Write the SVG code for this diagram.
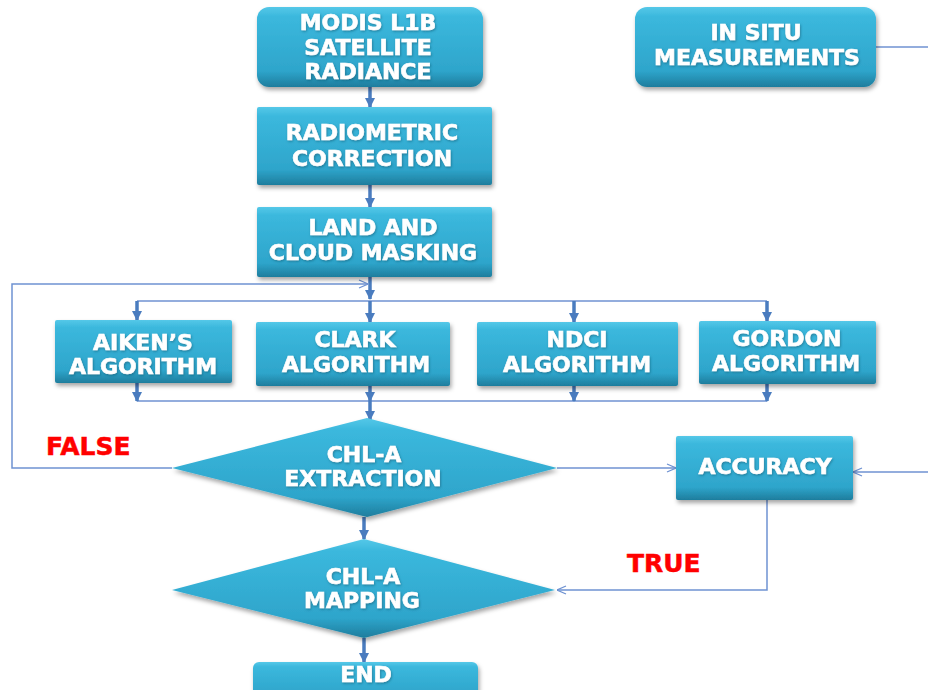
<svg xmlns="http://www.w3.org/2000/svg" width="928" height="690" viewBox="0 0 928 690">
<style>
.box{fill:url(#boxGrad);filter:url(#shadow)}
.t{font-family:"DejaVu Sans","Liberation Sans",sans-serif;font-weight:bold;font-size:22px;fill:#ffffff;stroke:#ffffff;stroke-width:0.6;text-anchor:middle;filter:url(#tshadow)}
.lbl{font-family:"DejaVu Sans","Liberation Sans",sans-serif;font-weight:bold;font-size:25px;fill:#ff0000;stroke:#ff0000;stroke-width:0.5}
.thick{stroke:#4a7cbf;stroke-width:3.5;fill:none;marker-end:url(#headFill)}
.thin{stroke:#6f92d2;stroke-width:1.5;fill:none}
.open{marker-end:url(#headOpen)}
</style>
<defs>
<linearGradient id="boxGrad" x1="0" y1="0" x2="0" y2="1">
<stop offset="0" stop-color="#55c8e8"/>
<stop offset="0.12" stop-color="#3bb8dd"/>
<stop offset="0.8" stop-color="#2ea5cb"/>
<stop offset="1" stop-color="#1e7d9d"/>
</linearGradient>
<filter id="shadow" x="-10%" y="-10%" width="125%" height="135%">
<feDropShadow dx="1.5" dy="3" stdDeviation="2" flood-color="#000" flood-opacity="0.35"/>
</filter>
<filter id="tshadow" x="-10%" y="-20%" width="120%" height="150%">
<feDropShadow dx="0.8" dy="1.2" stdDeviation="0.8" flood-color="#0b4a60" flood-opacity="0.5"/>
</filter>
<marker id="headFill" viewBox="0 0 10 10" refX="9" refY="5" markerWidth="10" markerHeight="10" markerUnits="userSpaceOnUse" orient="auto">
<path d="M0,0 L10,5 L0,10 z" fill="#4a7cbf"/>
</marker>
<marker id="headOpen" viewBox="0 0 10 10" refX="10" refY="5" markerWidth="10" markerHeight="10" markerUnits="userSpaceOnUse" orient="auto">
<path d="M1,1 L10,5 L1,9" fill="none" stroke="#6f92d2" stroke-width="1.3"/>
</marker>
</defs>
<g id="connectors">
<path class="thin open" d="M172,468 H12 V284 H368"/>
<path class="thin" d="M137,301 H767"/>
<path class="thin" d="M137,401 H767"/>
<path class="thin open" d="M557,468 H676"/>
<path class="thin" d="M876,47 H928"/>
<path class="thin open" d="M928,472 H853"/>
<path class="thin open" d="M767,500 V590 H557"/>
<path class="thick" d="M370,87 V107"/>
<path class="thick" d="M370,185 V207"/>
<path class="thick" d="M370,277 V299"/>
<path class="thick" d="M137,301 V320"/>
<path class="thick" d="M370,301 V322"/>
<path class="thick" d="M574,301 V322"/>
<path class="thick" d="M767,301 V321"/>
<path class="thick" d="M137,383 V401"/>
<path class="thick" d="M370,386 V401"/>
<path class="thick" d="M574,386 V401"/>
<path class="thick" d="M767,384 V401"/>
<path class="thick" d="M370,401 V420"/>
<path class="thick" d="M364,517 V539"/>
<path class="thick" d="M364,638 V662"/>
</g>
<g id="modis">
<rect class="box" x="257" y="7" width="226" height="80" rx="12"/>
<text class="t" x="368" y="30">MODIS L1B</text>
<text class="t" x="368" y="55">SATELLITE</text>
<text class="t" x="368" y="79">RADIANCE</text>
</g>
<g id="insitu">
<rect class="box" x="635" y="7" width="241" height="80" rx="12"/>
<text class="t" x="756" y="40">IN SITU</text>
<text class="t" x="757" y="65">MEASUREMENTS</text>
</g>
<g id="radiometric">
<rect class="box" x="257" y="107" width="235" height="78" rx="2"/>
<text class="t" x="372" y="140">RADIOMETRIC</text>
<text class="t" x="372" y="166">CORRECTION</text>
</g>
<g id="landcloud">
<rect class="box" x="257" y="207" width="235" height="70" rx="2"/>
<text class="t" x="373" y="235">LAND AND</text>
<text class="t" x="373" y="260">CLOUD MASKING</text>
</g>
<g id="aiken">
<rect class="box" x="55" y="320" width="177" height="63" rx="2"/>
<text class="t" x="143" y="350">AIKEN’S</text>
<text class="t" x="143" y="374">ALGORITHM</text>
</g>
<g id="clark">
<rect class="box" x="256" y="322" width="194" height="64" rx="2"/>
<text class="t" x="355" y="347">CLARK</text>
<text class="t" x="356" y="372">ALGORITHM</text>
</g>
<g id="ndci">
<rect class="box" x="477" y="322" width="201" height="64" rx="2"/>
<text class="t" x="577" y="347">NDCI</text>
<text class="t" x="577" y="372">ALGORITHM</text>
</g>
<g id="gordon">
<rect class="box" x="699" y="321" width="177" height="63" rx="2"/>
<text class="t" x="787" y="346">GORDON</text>
<text class="t" x="786" y="371">ALGORITHM</text>
</g>
<g id="extraction">
<polygon class="box" points="367,418 557,468 367,517 172,468"/>
<text class="t" x="364" y="462">CHL-A</text>
<text class="t" x="363" y="486">EXTRACTION</text>
</g>
<g id="accuracy">
<rect class="box" x="676" y="436" width="177" height="64" rx="2"/>
<text class="t" x="765" y="474">ACCURACY</text>
</g>
<g id="mapping">
<polygon class="box" points="364,539 555,590 364,638 172,590"/>
<text class="t" x="363" y="584">CHL-A</text>
<text class="t" x="362" y="608">MAPPING</text>
</g>
<g id="end">
<rect class="box" x="253" y="662" width="225" height="40" rx="6"/>
<text class="t" x="366" y="682">END</text>
</g>
<g id="labels">
<text class="lbl" x="46" y="455">FALSE</text>
<text class="lbl" x="627" y="572">TRUE</text>
</g>
</svg>
